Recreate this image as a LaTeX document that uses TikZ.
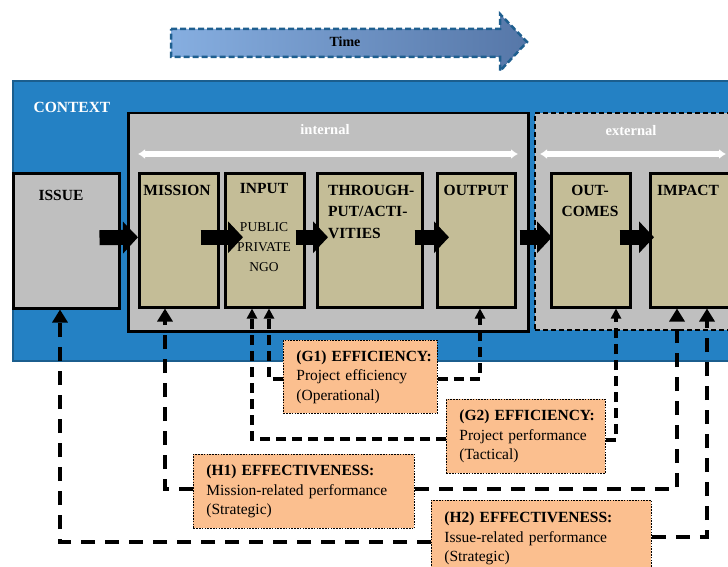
\documentclass[tikz,border=0pt]{standalone}
\usepackage{fontspec}
\setmainfont{Liberation Serif}
\usetikzlibrary{arrows.meta}
\definecolor{ctxblue}{HTML}{2481C4}
\definecolor{ctxedge}{HTML}{1B5E8E}
\definecolor{khaki}{HTML}{C4BD97}
\definecolor{boxgray}{HTML}{BFBFBF}
\definecolor{infoorange}{HTML}{FBBF8F}
\definecolor{timeL}{HTML}{86AEE0}
\definecolor{timeR}{HTML}{5677A8}
\definecolor{timeedge}{HTML}{1F5F8F}
\begin{document}
\begin{tikzpicture}[x=1pt,y=-1pt,
  stagebox/.style={draw=black, line width=2.5pt, fill=khaki, anchor=north west, inner sep=0pt, minimum height=134pt},
  lbl/.style={font=\fontsize{15.5}{21.5}\selectfont\bfseries, inner sep=0pt},
  sublbl/.style={font=\fontsize{13.5}{20}\selectfont, inner sep=0pt, align=center},
  blk/.style={line width=15pt, -{Triangle[length=15pt,width=31pt]}},
  hl/.style={line width=4.5pt, dash pattern=on 14pt off 10pt, line join=miter, -{Triangle[length=13pt,width=15pt]}},
  gl/.style={line width=3.5pt, dash pattern=on 10pt off 6pt, line join=miter, -{Triangle[length=10pt,width=10pt]}},
  info/.style={draw=black, line width=0.8pt, dash pattern=on 1.6pt off 1.2pt, fill=infoorange, anchor=north west,
     align=left, inner xsep=13pt, inner ysep=0pt, font=\fontsize{15.5}{19.5}\selectfont},
  whitearrow/.style={white, line width=5pt, {Latex[length=7pt,width=10pt]}-{Latex[length=7pt,width=10pt]}}
]
\useasboundingbox (0,0) rectangle (728,567);
\clip (0,0) rectangle (728,567);

% time arrow
\path[left color=timeL, right color=timeR, draw=timeedge, line width=2.5pt, dash pattern=on 6pt off 3pt]
  (171,29) -- (500,29) -- (500,14) -- (527,42) -- (500,71) -- (500,57) -- (171,57) -- cycle;
\node[font=\fontsize{14}{15}\selectfont\bfseries, inner sep=0pt] (time) at (345,42) {Time};

% context
\node[draw=ctxedge, line width=2pt, fill=ctxblue, anchor=north west, minimum width=740pt, minimum height=280pt, inner sep=0pt] (context) at (12,80) {};
\node[lbl, text=white] (contextt) at (72,107) {CONTEXT};

% internal / external
\node[draw=black, line width=2.5pt, fill=boxgray, anchor=north west, minimum width=400pt, minimum height=218pt, inner sep=0pt] (internal) at (127,112) {};
\node[draw=black, line width=2pt, dash pattern=on 5pt off 3pt, fill=boxgray, anchor=north west, minimum width=230pt, minimum height=217pt, inner sep=0pt] (external) at (534,112) {};
\node[lbl, text=white, font=\fontsize{14.5}{16}\selectfont\bfseries] (internalt) at (325,130) {internal};
\node[lbl, text=white, font=\fontsize{14.5}{16}\selectfont\bfseries] (externalt) at (631,131) {external};
\coordinate (wiL) at (138,154);
\coordinate (wiR) at (518,154);
\coordinate (weL) at (540,154);
\coordinate (weR) at (726,154);
\draw[whitearrow] (wiL) -- (wiR);
\draw[whitearrow] (weL) -- (weR);

% stage boxes
\node[stagebox, fill=boxgray, minimum width=106pt, minimum height=135pt] (issue) at (12,172) {};
\node[stagebox, minimum width=79pt] (mission) at (138,172) {};
\node[stagebox, minimum width=79pt] (input) at (224,172) {};
\node[stagebox, minimum width=105pt] (through) at (316,172) {};
\node[stagebox, minimum width=78pt] (output) at (436,172) {};
\node[stagebox, minimum width=79pt] (outcomes) at (550,172) {};
\node[stagebox, minimum width=110pt] (impact) at (649,172) {};

\node[lbl] (issuet) at (61,195) {ISSUE};
\node[lbl] (missiont) at (177,190) {MISSION};
\node[lbl] (inputt) at (264,188) {INPUT};
\node[sublbl, anchor=north] (inputs) at (264,222) {PUBLIC\\PRIVATE\\NGO};
\node[lbl, align=left, anchor=north west] (throught) at (328,185) {THROUGH-\\PUT/ACTI-\\VITIES};
\node[lbl] (outputt) at (476,190) {OUTPUT};
\node[lbl, align=center, anchor=north] (outcomest) at (590,185) {OUT-\\COMES};
\node[lbl] (impactt) at (688,190) {IMPACT};

% block arrows
\draw[blk] ([xshift=-21pt,yshift=3pt]issue.east) -- ([yshift=3pt]mission.west);
\draw[blk] ([xshift=-19pt,yshift=3pt]mission.east) -- ([xshift=19pt,yshift=3pt]input.west);
\draw[blk] ([xshift=-10pt,yshift=3pt]input.east) -- ([xshift=12pt,yshift=3pt]through.west);
\draw[blk] ([xshift=-9pt,yshift=3pt]through.east) -- ([xshift=13pt,yshift=3pt]output.west);
\draw[blk] ([xshift=3pt,yshift=3pt]output.east) -- ([xshift=2pt,yshift=3pt]outcomes.west);
\draw[blk] ([xshift=-12pt,yshift=3pt]outcomes.east) -- ([xshift=5pt,yshift=3pt]impact.west);

% info boxes
\node[info, minimum width=154pt, minimum height=73pt, text width=128pt] (g1) at (283,340)
  {\mbox{\textbf{(G1) EFFICIENCY:}}\\\mbox{Project efficiency}\\\mbox{(Operational)}};
\node[info, minimum width=159pt, minimum height=74pt, text width=133pt] (g2) at (446,399)
  {\mbox{\textbf{(G2) EFFICIENCY:}}\\\mbox{Project performance}\\\mbox{(Tactical)}};
\node[info, minimum width=221pt, minimum height=74pt, text width=195pt] (h1) at (193,454)
  {\mbox{\textbf{(H1) EFFECTIVENESS:}}\\\mbox{Mission-related performance}\\\mbox{(Strategic)}};
\node[info, minimum width=220pt, minimum height=76pt, text width=194pt] (h2) at (431,500)
  {\mbox{\textbf{(H2) EFFECTIVENESS:}}\\\mbox{Issue-related performance}\\\mbox{(Strategic)}};

% feedback connectors
\draw[gl] (g1.west |- 0,379) -- (269,379) -- (input.south -| 269,0);
\draw[gl] (g1.east |- 0,379) -- (480,379) -- (output.south -| 480,0);
\draw[gl] (g2.west |- 0,439) -- (252,439) -- (input.south -| 252,0);
\draw[gl] (g2.east |- 0,440) -- (616,440) -- (outcomes.south -| 616,0);
\draw[hl] (h1.west |- 0,489) -- (165,489) -- (mission.south -| 165,0);
\draw[hl] (h1.east |- 0,489) -- (677,489) -- (impact.south -| 677,0);
\draw[hl] (h2.west |- 0,542) -- (60,542) -- (issue.south -| 60,0);
\draw[hl] (h2.east |- 0,537) -- (707,537) -- (impact.south -| 707,0);
\end{tikzpicture}
\end{document}
